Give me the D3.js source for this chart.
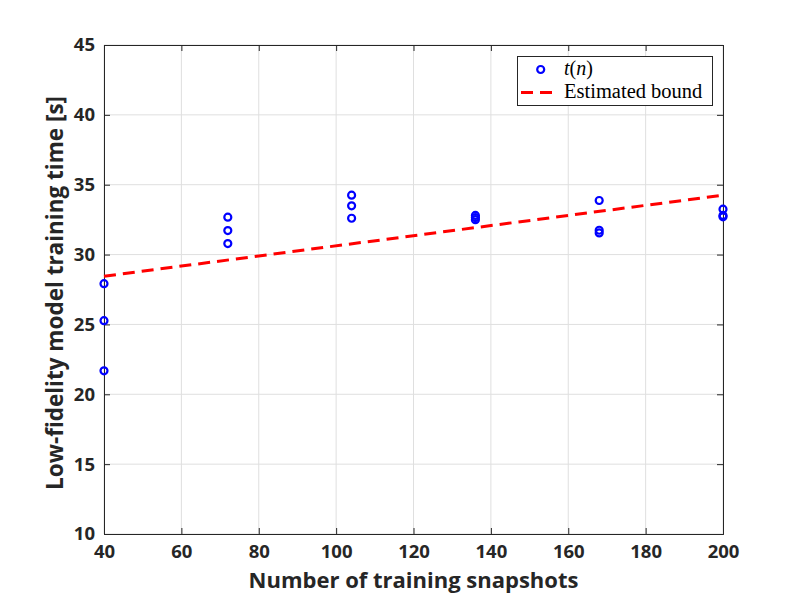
<!DOCTYPE html>
<html><head><meta charset="utf-8">
<script src="https://cdn.jsdelivr.net/npm/d3@7"></script>
<style>body{margin:0;background:#fff}</style>
</head><body>
<svg id="chart" width="800" height="600"></svg>
<script>
const snapshots = [40,40,40,72,72,72,104,104,104,136,136,136,168,168,168,200,200,200];
const trainTime = [27.92,25.27,21.68,32.68,31.72,30.79,34.25,33.49,32.60,32.80,32.65,32.50,33.87,31.74,31.55,33.25,32.80,32.70];
const boundN = [40,200];
const boundT = [28.45,34.25];
const xTicks = [40,60,80,100,120,140,160,180,200];
const yTicks = [10,15,20,25,30,35,40,45];

const svg = d3.select('#chart');
const L=104,R=723,T=45,B=534;
const x = d3.scaleLinear().domain([40,200]).range([L,R]);
const y = d3.scaleLinear().domain([10,45]).range([B,T]);
const tickFont = "'Open Sans', sans-serif";

// grid
const g = svg.append('g');
g.selectAll('.gx').data(xTicks).enter().append('line')
 .attr('x1',d=>x(d)).attr('x2',d=>x(d)).attr('y1',T).attr('y2',B)
 .attr('stroke','#dfdfdf').attr('stroke-width',1);
g.selectAll('.gy').data(yTicks).enter().append('line')
 .attr('y1',d=>y(d)).attr('y2',d=>y(d)).attr('x1',L).attr('x2',R)
 .attr('stroke','#dfdfdf').attr('stroke-width',1);

// axes
const xAxis = d3.axisBottom(x).tickValues(xTicks).tickSize(-6).tickPadding(11);
const yAxis = d3.axisLeft(y).tickValues(yTicks).tickSize(-6).tickPadding(9);
const xa = svg.append('g').attr('transform',`translate(0,${B})`).call(xAxis);
const ya = svg.append('g').attr('transform',`translate(${L},0)`).call(yAxis);
const xTop = svg.append('g').attr('transform',`translate(0,${T})`).call(d3.axisTop(x).tickValues(xTicks).tickSize(-6).tickFormat(''));
const yRight = svg.append('g').attr('transform',`translate(${R},0)`).call(d3.axisRight(y).tickValues(yTicks).tickSize(-6).tickFormat(''));
[xa,ya,xTop,yRight].forEach(a=>{
  a.select('.domain').attr('stroke','#262626').attr('stroke-width',1);
  a.selectAll('.tick line').attr('stroke','#262626');
  a.selectAll('.tick text').attr('fill','#262626').attr('font-family',tickFont)
   .attr('font-weight','bold').attr('font-size','18.5px');
});

// bound line
svg.append('path').datum(boundN.map((n,i)=>[n,boundT[i]]))
 .attr('d',d3.line().x(d=>x(d[0])).y(d=>y(d[1])))
 .attr('stroke','#ff0000').attr('stroke-width',3).attr('stroke-dasharray','12,7').attr('fill','none');

// points
svg.selectAll('.pt').data(snapshots.map((n,i)=>[n,trainTime[i]])).enter().append('circle')
 .attr('cx',d=>x(d[0])).attr('cy',d=>y(d[1])).attr('r',3.5)
 .attr('fill','none').attr('stroke','#0000ff').attr('stroke-width',2.2);

// labels
svg.append('text').attr('x',(L+R)/2).attr('y',588).attr('text-anchor','middle')
 .attr('font-family',tickFont).attr('font-weight','bold').attr('font-size','22px').attr('fill','#262626')
 .text('Number of training snapshots');
svg.append('text').attr('transform',`translate(63,293) rotate(-90)`).attr('text-anchor','middle')
 .attr('font-family',tickFont).attr('font-weight','bold').attr('font-size','22.5px').attr('fill','#262626')
 .text('Low-fidelity model training time [s]');

// legend
const lg = svg.append('g');
lg.append('rect').attr('x',517.5).attr('y',56.5).attr('width',195).attr('height',49)
 .attr('fill','#fff').attr('stroke','#262626').attr('stroke-width',1);
lg.append('circle').attr('cx',540.7).attr('cy',69.5).attr('r',3.5)
 .attr('fill','none').attr('stroke','#0000ff').attr('stroke-width',2.2);
lg.append('line').attr('x1',521).attr('x2',557).attr('y1',92.5).attr('y2',92.5)
 .attr('stroke','#ff0000').attr('stroke-width',3).attr('stroke-dasharray','12,7');
const lt = lg.append('text').attr('x',564).attr('y',75).attr('font-family',"'Liberation Serif', serif").attr('font-size','20px').attr('fill','#000');
lt.append('tspan').attr('font-style','italic').text('t');
lt.append('tspan').text('(');
lt.append('tspan').attr('font-style','italic').text('n');
lt.append('tspan').text(')');
lg.append('text').attr('x',564).attr('y',98).attr('font-family',"'Liberation Serif', serif").attr('font-size','20.5px').attr('fill','#000')
 .text('Estimated bound');
</script>
</body></html>
